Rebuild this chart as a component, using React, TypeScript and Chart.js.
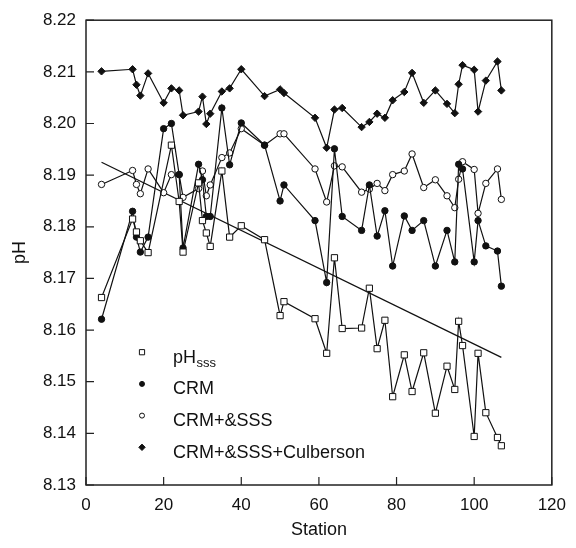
import React, { useEffect, useRef } from "react";
import { Chart, registerables } from "chart.js";

Chart.register(...registerables);

// ---- data ----
const stations = [4, 12, 13, 14, 16, 20, 22, 24, 25, 29, 30, 31, 32, 35, 37, 40, 46, 50, 51, 59, 62, 64, 66, 71, 73, 75, 77, 79, 82, 84, 87, 90, 93, 95, 96, 97, 100, 101, 103, 106, 107];

const sssStations = [4, 12, 13, 14, 16, 22, 24, 25, 29, 30, 31, 32, 35, 37, 40, 46, 50, 51, 59, 62, 64, 66, 71, 73, 75, 77, 79, 82, 84, 87, 90, 93, 95, 96, 97, 100, 101, 103, 106, 107];
const pHsss = [8.1663, 8.1815, 8.179, 8.1773, 8.175, 8.1958, 8.1849, 8.1751, 8.1885, 8.1812, 8.1788, 8.1762, 8.1908, 8.178, 8.1802, 8.1775, 8.1628, 8.1655, 8.1622, 8.1555, 8.174, 8.1603, 8.1604, 8.1681, 8.1564, 8.1619, 8.1471, 8.1552, 8.1481, 8.1556, 8.1439, 8.153, 8.1485, 8.1617, 8.157, 8.1394, 8.1555, 8.144, 8.1392, 8.1376];

const crm = [8.1621, 8.183, 8.178, 8.1751, 8.178, 8.199, 8.2, 8.1901, 8.1759, 8.1921, 8.1891, 8.182, 8.182, 8.203, 8.192, 8.2001, 8.1958, 8.185, 8.1881, 8.1812, 8.1692, 8.1951, 8.182, 8.1793, 8.1881, 8.1782, 8.1831, 8.1724, 8.1821, 8.1793, 8.1812, 8.1724, 8.1793, 8.1732, 8.1921, 8.1912, 8.1732, 8.1812, 8.1763, 8.1753, 8.1685];

const crmSss = [8.1882, 8.1909, 8.1882, 8.1864, 8.1912, 8.1866, 8.1901, 8.1901, 8.1857, 8.1874, 8.1908, 8.186, 8.1881, 8.1934, 8.1943, 8.199, 8.1958, 8.198, 8.198, 8.1912, 8.1848, 8.1918, 8.1916, 8.1867, 8.1873, 8.1884, 8.187, 8.1901, 8.1908, 8.1941, 8.1876, 8.1891, 8.186, 8.1837, 8.1892, 8.1926, 8.1911, 8.1826, 8.1884, 8.1912, 8.1853];

const culberson = [8.2101, 8.2105, 8.2075, 8.2054, 8.2097, 8.204, 8.2068, 8.2064, 8.2016, 8.2023, 8.2052, 8.1999, 8.2019, 8.2062, 8.2068, 8.2105, 8.2053, 8.2066, 8.2059, 8.2011, 8.1953, 8.2027, 8.203, 8.1993, 8.2003, 8.2019, 8.2011, 8.2045, 8.2061, 8.2098, 8.204, 8.2064, 8.2038, 8.202, 8.2076, 8.2113, 8.2104, 8.2023, 8.2083, 8.212, 8.2064];

const trendStations = [4, 107];
const trendValues = [8.1925, 8.1547];

const xTicks = [0, 20, 40, 60, 80, 100, 120];
const yTicks = [8.13, 8.14, 8.15, 8.16, 8.17, 8.18, 8.19, 8.2, 8.21, 8.22];

const legendMain = ["pH", "CRM", "CRM+&SSS", "CRM+&SSS+Culberson"];
const legendSub = ["sss", "", "", ""];
const legendStyles = ["rect", "circle", "circle", "rectRot"];
const legendFills = ["#ffffff", "#111111", "#ffffff", "#111111"];

const FONT = "Arial, 'Liberation Sans', Helvetica, sans-serif";
const INK = "#111111";

const pts = (xs: number[], ys: number[]) => xs.map((x, i) => ({ x, y: ys[i] }));

function drawMarker(ctx: CanvasRenderingContext2D, style: string, x: number, y: number, fill: string) {
  ctx.save();
  ctx.fillStyle = fill;
  ctx.strokeStyle = INK;
  ctx.lineWidth = 1;
  ctx.beginPath();
  if (style === "rect") {
    ctx.rect(x - 2.6, y - 2.6, 5.2, 5.2);
  } else if (style === "rectRot") {
    const r = 3.2;
    ctx.moveTo(x, y - r);
    ctx.lineTo(x + r, y);
    ctx.lineTo(x, y + r);
    ctx.lineTo(x - r, y);
    ctx.closePath();
  } else {
    ctx.arc(x, y, 2.5, 0, Math.PI * 2);
  }
  ctx.fill();
  ctx.stroke();
  ctx.restore();
}

const framePlugin = {
  id: "framePlugin",
  afterDraw(chart: any) {
    const { ctx, chartArea: a, scales } = chart;
    ctx.save();
    // frame
    ctx.strokeStyle = "#222";
    ctx.lineWidth = 1.5;
    ctx.strokeRect(a.left, a.top, a.right - a.left, a.bottom - a.top);
    // inward ticks
    ctx.lineWidth = 1.2;
    ctx.beginPath();
    xTicks.forEach((v) => {
      const px = scales.x.getPixelForValue(v);
      ctx.moveTo(px, a.bottom);
      ctx.lineTo(px, a.bottom - 8);
    });
    yTicks.forEach((v) => {
      const py = scales.y.getPixelForValue(v);
      ctx.moveTo(a.left, py);
      ctx.lineTo(a.left + 8, py);
    });
    ctx.stroke();

    // legend
    const mx = a.left + 56;
    const tx = a.left + 87;
    const y0 = a.top + 332;
    const dy = 31.7;
    legendMain.forEach((label, i) => {
      const y = y0 + i * dy;
      drawMarker(ctx, legendStyles[i], mx, y, legendFills[i]);
      ctx.fillStyle = INK;
      ctx.textAlign = "left";
      ctx.textBaseline = "alphabetic";
      ctx.font = `18px ${FONT}`;
      ctx.fillText(label, tx, y + 10.5);
      if (legendSub[i]) {
        const w = ctx.measureText(label).width;
        ctx.font = `13px ${FONT}`;
        ctx.fillText(legendSub[i], tx + w + 0.5, y + 15);
      }
    });
    ctx.restore();
  },
};

export default function App() {
  const ref = useRef<HTMLCanvasElement | null>(null);

  useEffect(() => {
    document.body.style.margin = "0";
    const canvas = ref.current;
    if (!canvas) return;
    const common = {
      borderColor: INK,
      borderWidth: 1.2,
      pointBorderColor: INK,
      pointBorderWidth: 1,
      tension: 0,
      fill: false,
    };
    const chart = new Chart(canvas, {
      type: "line",
      data: {
        datasets: [
          {
            ...common,
            label: "pHsss",
            data: pts(sssStations, pHsss),
            pointStyle: "rect",
            pointRadius: 4.4,
            pointBackgroundColor: "#ffffff",
          },
          {
            ...common,
            label: "CRM",
            data: pts(stations, crm),
            pointStyle: "circle",
            pointRadius: 3.2,
            pointBackgroundColor: INK,
          },
          {
            ...common,
            label: "CRM+&SSS",
            data: pts(stations, crmSss),
            pointStyle: "circle",
            pointRadius: 3.2,
            pointBackgroundColor: "#ffffff",
          },
          {
            ...common,
            label: "CRM+&SSS+Culberson",
            data: pts(stations, culberson),
            pointStyle: "rectRot",
            pointRadius: 3.7,
            pointBackgroundColor: INK,
          },
          {
            label: "fit",
            data: pts(trendStations, trendValues),
            borderColor: INK,
            borderWidth: 1.3,
            pointRadius: 0,
            tension: 0,
            fill: false,
          },
        ],
      } as any,
      options: {
        responsive: false,
        animation: false,
        events: [],
        layout: { padding: { top: 17, right: 19, bottom: 0, left: 0 } },
        plugins: {
          legend: { display: false },
          tooltip: { enabled: false },
        },
        scales: {
          x: {
            type: "linear",
            min: 0,
            max: 120,
            grid: { display: false, drawTicks: false },
            border: { display: false },
            afterBuildTicks: (s: any) => {
              s.ticks = xTicks.map((v) => ({ value: v }));
            },
            afterFit: (s: any) => {
              s.height = 63;
            },
            ticks: {
              padding: 10,
              autoSkip: false,
              maxRotation: 0,
              color: INK,
              font: { family: FONT, size: 17 },
              callback: (v: any) => String(v),
            },
            title: {
              display: true,
              text: "Station",
              color: INK,
              font: { family: FONT, size: 18 },
              padding: { top: 0, bottom: 7 },
            },
          },
          y: {
            type: "linear",
            min: 8.13,
            max: 8.22,
            grid: { display: false, drawTicks: false },
            border: { display: false },
            afterBuildTicks: (s: any) => {
              s.ticks = yTicks.map((v) => ({ value: v }));
            },
            afterFit: (s: any) => {
              s.width = 86;
            },
            ticks: {
              padding: 10,
              autoSkip: false,
              color: INK,
              font: { family: FONT, size: 17 },
              callback: (v: any) => Number(v).toFixed(2),
            },
            title: {
              display: true,
              text: "pH",
              color: INK,
              font: { family: FONT, size: 18 },
              padding: { top: 9, bottom: 0 },
            },
          },
        },
      } as any,
      plugins: [framePlugin],
    });
    return () => chart.destroy();
  }, []);

  return (
    <div style={{ width: 576, height: 548, position: "relative", background: "#fff" }}>
      <canvas ref={ref} width={576} height={548} style={{ display: "block" }} />
    </div>
  );
}
